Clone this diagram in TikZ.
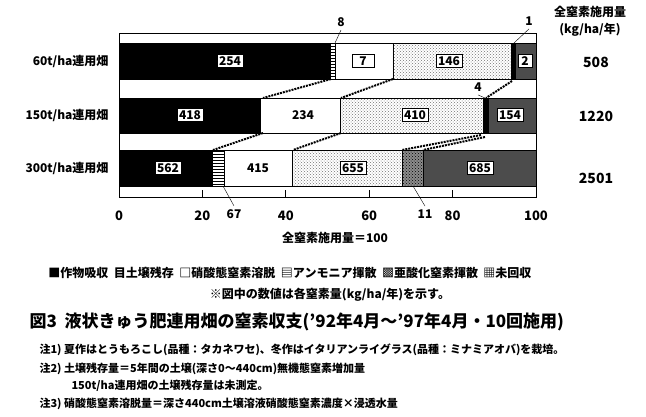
\documentclass[tikz,border=0pt]{standalone}
\usepackage{fontspec}
\setmainfont{Noto Sans CJK JP}
\usetikzlibrary{patterns,positioning}
\begin{document}
\begin{tikzpicture}[x=1pt,y=-1pt,
  val/.style={draw=black,thick,fill=white,fill opacity=1,text=black,text opacity=1,inner sep=2pt,minimum width=22pt,font=\fontsize{12}{12}\bfseries},
  lab/.style={font=\fontsize{12}{13}\bfseries},
  crop/.style={fill=black},
  soil/.style={pattern=horizontal lines},
  leach/.style={fill=white},
  ammo/.style={pattern=crosshatch dots,pattern color=black!55},
  nitro/.style={fill=black!45,postaction={pattern=crosshatch dots}},
  lost/.style={fill=black!70},
  link/.style={densely dotted,line width=2pt}]
\useasboundingbox (0,0) rectangle (646,416);
% frame
\draw[thick] (119,33) rectangle (536,197);
\foreach \t/\n in {0/0,20/20,40/40,60/60,80/80,100/100}
  \node[lab,font=\fontsize{13}{13}\bfseries] (tick\t) at ({119+4.17*\t},216) {\n};
\foreach \t in {20,40,60,80}
  \draw[thick] ({119+4.17*\t},190) -- ({119+4.17*\t},197);
\node[lab] (axis) at (335,238) {全窒素施用量＝100};
% bars
\newcommand{\seg}[5]{\draw[thick,#1] ({119+4.17*#2},#4) rectangle ({119+4.17*#3},#5);}
% 60t
\seg{crop}{0}{50.8}{43}{79}
\seg{soil}{50.8}{51.8}{43}{79}
\seg{leach}{51.8}{65.7}{43}{79}
\seg{ammo}{65.7}{94.2}{43}{79}
\seg{fill=black}{94.2}{95}{43}{79}
\seg{lost}{95}{100}{43}{79}
% 150t
\seg{crop}{0}{34}{98}{133}
\seg{leach}{34}{53.2}{98}{133}
\seg{ammo}{53.2}{87.3}{98}{133}
\seg{fill=black}{87.3}{88.5}{98}{133}
\seg{lost}{88.5}{100}{98}{133}
% 300t
\seg{crop}{0}{22.5}{150}{186}
\seg{soil}{22.5}{25.2}{150}{186}
\seg{leach}{25.2}{41.6}{150}{186}
\seg{ammo}{41.6}{68}{150}{186}
\seg{nitro}{68}{73}{150}{186}
\seg{lost}{73}{100}{150}{186}
% values
\node[val] (v254) at (230,61) {254};
\node[val] (v7) at (363,61) {7};
\node[val] (v146) at (449,61) {146};
\node[val,minimum width=14pt] (v2) at (525,61) {2};
\node[val] (v418) at (190,115) {418};
\node[val,draw=none] (v234) at (303,115) {234};
\node[val] (v410) at (415,115) {410};
\node[val] (v154) at (510,115) {154};
\node[val] (v562) at (168,168) {562};
\node[val,draw=none] (v415) at (258,168) {415};
\node[val] (v655) at (353,168) {655};
\node[val] (v685) at (480,168) {685};
% links between bars
\coordinate (a1) at (331,79); \coordinate (a2) at (263,98);
\coordinate (b1) at (393,79); \coordinate (b2) at (341,98);
\coordinate (c1) at (512,81); \coordinate (c2) at (486,98);
\coordinate (d1) at (263,133); \coordinate (d2) at (213,150);
\coordinate (e1) at (341,133); \coordinate (e2) at (293,150);
\coordinate (f1) at (481,135); \coordinate (f2) at (402,150);
\coordinate (g1) at (485,137); \coordinate (g2) at (423,150);
\foreach \p in {a,b,c,d,e,f,g} \draw[link] (\p1) -- (\p2);
% small value labels
\node[lab] (n8) at (341,22) {8}; \draw (n8.south) -- (335,43);
\node[lab] (n1) at (529,21) {1}; \draw (n1.south) -- (514,43);
\node[lab] (n4) at (478,87) {4}; \draw (n4.south) -- (485,98);
\node[lab] (n67) at (234,214) {67}; \draw (n67.north) -- (223,186);
\node[lab] (n11) at (425,214) {11}; \draw (n11.north) -- (413,186);
% row names and totals
\node[lab,anchor=east] (r60) at (112,61) {60t/ha連用畑};
\node[lab,anchor=east] (r150) at (112,115) {150t/ha連用畑};
\node[lab,anchor=east] (r300) at (112,168) {300t/ha連用畑};
\node[lab] (head) at (590,12) {全窒素施用量};
\node[lab] (unit) at (590,30) {(kg/ha/年)};
\node[lab,font=\fontsize{14}{14}\bfseries] (t60) at (596,62) {508};
\node[lab,font=\fontsize{14}{14}\bfseries] (t150) at (596,116) {1220};
\node[lab,font=\fontsize{14}{14}\bfseries] (t300) at (596,178) {2501};
% legend
\node[lab] (legend) at (290,273)
  {■作物吸収\ \ 目土壌残存\ \ □硝酸態窒素溶脱\ \ ▤アンモニア揮散\ \ ▩亜酸化窒素揮散\ \ ▦未回収};
\node[lab] (note) at (330,295) {※図中の数値は各窒素量(kg/ha/年)を示す。};
\node[font=\fontsize{17}{17}\bfseries,anchor=west] (title) at (26,322)
  {図3\ \ 液状きゅう肥連用畑の窒素収支('92年4月～'97年4月・10回施用)};
\node[lab,anchor=west,font=\fontsize{11}{12}\bfseries] (c1) at (36,350)
  {注1) 夏作はとうもろこし(品種：タカネワセ)、冬作はイタリアンライグラス(品種：ミナミアオバ)を栽培。};
\node[lab,anchor=west,font=\fontsize{11}{12}\bfseries] (c2) at (36,369)
  {注2) 土壌残存量＝5年間の土壌(深さ0～440cm)無機態窒素増加量};
\node[lab,anchor=west,font=\fontsize{11}{12}\bfseries] (c2b) at (68,386)
  {150t/ha連用畑の土壌残存量は未測定。};
\node[lab,anchor=west,font=\fontsize{11}{12}\bfseries] (c3) at (36,404)
  {注3) 硝酸態窒素溶脱量＝深さ440cm土壌溶液硝酸態窒素濃度×浸透水量};
\end{tikzpicture}
\end{document}
